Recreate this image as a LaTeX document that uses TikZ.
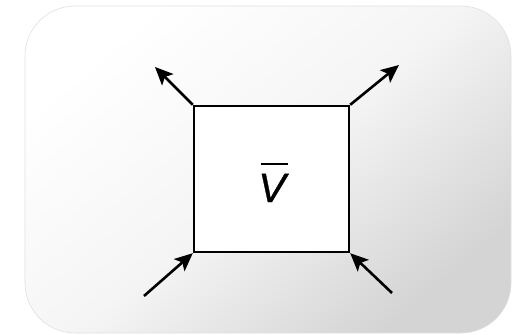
\documentclass[tikz,border=0pt]{standalone}
\usepackage{fontspec}
\setsansfont{Liberation Sans}
\newfontfamily\labelfont{Liberation Sans}[ItalicFeatures={FakeBold=0.8}]
\usetikzlibrary{arrows.meta, positioning}

\tikzset{
  panel/.style={rounded corners=50pt, draw=black!12, line width=0.6pt,
    top color=white, bottom color=black!17, middle color=black!4, shading angle=40},
  volbox/.style={draw, line width=2.4pt, fill=white, minimum width=155pt,
    minimum height=146pt, inner sep=0pt},
  flow/.style={line width=2.6pt, -{Stealth[length=18pt, width=16pt, inset=4pt]}}
}

\begin{document}
\begin{tikzpicture}[x=1pt,y=-1pt]
\useasboundingbox (0,0) rectangle (512,335);

% background panel
\shade[panel] (25,6) rectangle (511,333);

% the volume
\node[volbox] (vol) at (271.5,179) {};
\node[font=\labelfont\itshape\fontsize{41}{41}\selectfont, inner sep=0pt,
  anchor=base] (vlabel) at (272,202)
  {\ooalign{\hidewidth\kern4pt\rule[37pt]{27pt}{2.4pt}\hidewidth\cr V}};

% outgoing and incoming
\coordinate (tl) at (155,67);
\coordinate (tr) at (399,65);
\coordinate (bl) at (144,296);
\coordinate (br) at (392,293);

\draw[flow] (vol.north west) -- (tl);
\draw[flow] (vol.north east) -- (tr);
\draw[flow] (bl) -- (vol.south west);
\draw[flow] (br) -- (vol.south east);
\end{tikzpicture}
\end{document}
